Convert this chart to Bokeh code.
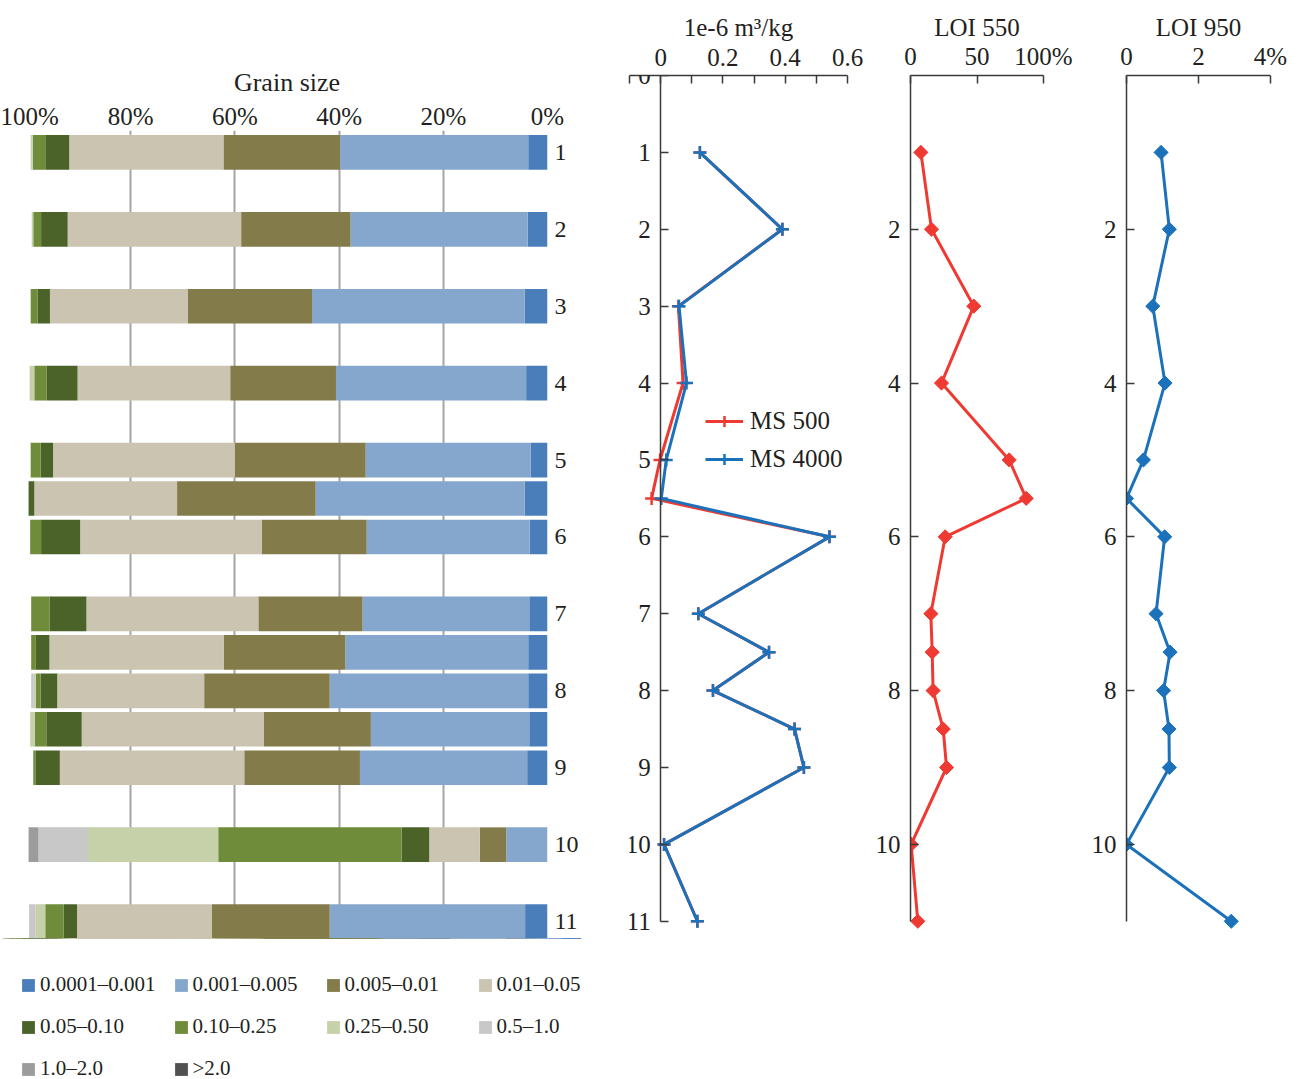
from bokeh.plotting import figure
from bokeh.models import (Range1d, FixedTicker, Legend, LegendItem,
                          PrintfTickFormatter, ColumnDataSource)
from bokeh.layouts import row, column
from bokeh.embed import file_html
from bokeh.resources import INLINE

FONT = "Liberation Serif"
INK = "#231F20"
AXIS = "#3A3A3A"
RED = "#EE3A33"
BLUE = "#1B72BA"

# ---------------- data ----------------
depth = [1, 2, 3, 4, 5, 5.5, 6, 7, 7.5, 8, 8.5, 9, 10, 11]
depth_ticks = [0, 1, 2, 3, 4, 5, 6, 7, 8, 9, 10, 11]
loi_depth_ticks = [2, 4, 6, 8, 10]

size_classes = ["0.0001\u20130.001", "0.001\u20130.005", "0.005\u20130.01", "0.01\u20130.05",
                "0.05\u20130.10", "0.10\u20130.25", "0.25\u20130.50", "0.5\u20131.0",
                "1.0\u20132.0", ">2.0"]
class_colors = ["#4A7EBB", "#86A7CD", "#847B4B", "#CAC4B0", "#4B6329",
                "#6E8C3A", "#C6D1AA", "#C8C8C8", "#9C9C9C", "#505050"]

# percentages of each grain-size class per sample
c_00001_0001 = [3.7, 3.8, 4.4, 4.1, 3.2, 4.4, 3.4, 3.5, 3.7, 3.7, 3.5, 3.9, 0.0, 4.3]
c_0001_0005 = [36.1, 34.0, 40.8, 36.5, 31.7, 40.1, 31.3, 32.0, 35.1, 38.1, 30.4, 32.1, 7.9, 37.5]
c_0005_001 = [22.4, 21.0, 23.8, 20.3, 25.1, 26.6, 20.1, 20.0, 23.3, 24.1, 20.6, 22.2, 5.1, 22.6]
c_001_005 = [29.6, 33.3, 26.5, 29.3, 34.9, 27.4, 34.9, 33.0, 33.5, 28.2, 34.9, 35.4, 9.7, 25.9]
c_005_010 = [4.6, 5.1, 2.4, 5.9, 2.4, 1.1, 7.5, 7.1, 2.6, 3.2, 6.8, 4.6, 5.3, 2.6]
c_010_025 = [2.4, 1.5, 1.3, 2.4, 1.9, 0.0, 2.1, 3.5, 0.9, 0.9, 2.2, 0.5, 35.2, 3.5]
c_025_050 = [0.4, 0.3, 0.0, 0.9, 0.0, 0.0, 0.0, 0.0, 0.0, 0.4, 0.9, 0.0, 25.0, 1.9]
c_05_10 = [0.0, 0.0, 0.0, 0.0, 0.0, 0.0, 0.0, 0.0, 0.0, 0.5, 0.0, 0.0, 9.5, 1.2]
c_10_20 = [0.0, 0.0, 0.0, 0.0, 0.0, 0.0, 0.0, 0.0, 0.0, 0.0, 0.0, 0.0, 1.9, 0.0]
c_gt20 = [0.0, 0.0, 0.0, 0.0, 0.0, 0.0, 0.0, 0.0, 0.0, 0.0, 0.0, 0.0, 0.0, 0.0]

ms500 = [0.126, 0.391, 0.057, 0.072, -0.002, -0.029, 0.542, 0.121, 0.348, 0.168, 0.430, 0.460, 0.011, 0.118]
ms4000 = [0.126, 0.391, 0.059, 0.083, 0.018, 0.002, 0.542, 0.121, 0.348, 0.168, 0.430, 0.460, 0.011, 0.118]
loi550 = [7.8, 15.8, 47.6, 23.3, 74.2, 87.0, 26.1, 15.3, 16.3, 17.0, 24.6, 27.1, 0.5, 5.5]
loi950 = [0.96, 1.19, 0.73, 1.07, 0.47, 0.0, 1.06, 0.82, 1.21, 1.03, 1.18, 1.19, 0.0, 2.91]

grain_ticks = [0, 20, 40, 60, 80, 100]
ms_ticks = [0, 0.2, 0.4, 0.6]
ms_minor = [-0.1, 0.1, 0.3, 0.5]
loi550_ticks = [0, 50, 100]
loi950_ticks = [0, 2, 4]


# ---------------- helpers ----------------
def style_axis(ax, size="25px"):
    ax.major_label_text_font = FONT
    ax.major_label_text_font_size = size
    ax.major_label_text_color = INK
    ax.axis_label_text_font = FONT
    ax.axis_label_text_font_size = "25px"
    ax.axis_label_text_font_style = "normal"
    ax.axis_label_text_color = INK
    ax.axis_line_color = AXIS
    ax.axis_line_width = 1.5
    ax.major_tick_line_color = AXIS
    ax.major_tick_line_width = 1.5
    ax.minor_tick_line_color = AXIS
    ax.minor_tick_line_width = 1.5
    ax.major_tick_in = 8
    ax.major_tick_out = 0
    ax.minor_tick_in = 8
    ax.minor_tick_out = 0


# ---------------- grain size panel ----------------
cols = ["c%d" % i for i in range(10)]
series = [c_00001_0001, c_0001_0005, c_0005_001, c_001_005, c_005_010,
          c_010_025, c_025_050, c_05_10, c_10_20, c_gt20]
data = dict(depth=depth)
for c, s in zip(cols, series):
    data[c] = s
src = ColumnDataSource(data)

pa = figure(frame_width=521, frame_height=808,
            x_range=Range1d(100, 0), y_range=Range1d(11.22, 0.715),
            x_axis_location="above", y_axis_location="right",
            toolbar_location=None, output_backend="svg", frame_align=False,
            min_border_left=26, min_border_right=34,
            min_border_top=130, min_border_bottom=0)
pa.outline_line_color = None
rs = pa.hbar_stack(cols, y="depth", height=0.45, fill_color=class_colors,
                   line_color=None, source=src)

gt = FixedTicker(ticks=grain_ticks)
pa.xaxis.ticker = gt
pa.xaxis.formatter = PrintfTickFormatter(format="%d%%")
style_axis(pa.xaxis[0])
pa.xaxis.axis_line_color = None
pa.xaxis.major_tick_line_color = None
pa.xaxis.minor_tick_line_color = None
pa.xaxis.major_label_standoff = 1
pa.xaxis.axis_label = "Grain size"
pa.xaxis.axis_label_standoff = 3
pa.xaxis.axis_label_text_font_size = "26px"

pa.yaxis.ticker = FixedTicker(ticks=list(range(1, 12)))
style_axis(pa.yaxis[0], "24px")
pa.yaxis.axis_line_color = None
pa.yaxis.major_tick_line_color = None
pa.yaxis.minor_tick_line_color = None
pa.yaxis.major_label_standoff = 7

pa.xgrid.ticker = gt
pa.xgrid.grid_line_color = "#A5A5A5"
pa.xgrid.grid_line_width = 2
pa.ygrid.visible = False

# ---------------- grain size legend (small plot under the bars) ----------------
# the same stacked series feed the legend glyphs; the plot's y window lies far
# outside the data, so only the legend is seen
pleg = figure(width=581, height=141, x_range=Range1d(100, 0), y_range=Range1d(-20, -19),
              x_axis_location=None, y_axis_location=None, toolbar_location=None,
              output_backend="svg", frame_align=False,
              min_border=0, min_border_left=0, min_border_right=0,
              min_border_top=0, min_border_bottom=0)
pleg.outline_line_color = None
pleg.grid.visible = False
proxies = pleg.hbar_stack(cols, y="depth", height=0.45, fill_color=class_colors,
                          line_color=None, source=src)
leg = Legend(items=[LegendItem(label=n, renderers=[r]) for n, r in zip(size_classes, proxies)],
             ncols=4, orientation="horizontal", location=(20, -2),
             glyph_width=16, glyph_height=16, label_standoff=4,
             label_width=115, spacing=17, padding=0, margin=0,
             border_line_color=None, background_fill_alpha=0,
             label_text_font=FONT, label_text_font_size="21px", label_text_color=INK)
pleg.add_layout(leg)

# ---------------- magnetic susceptibility panel ----------------
pb = figure(frame_width=218, frame_height=865,
            x_range=Range1d(-0.1, 0.6), y_range=Range1d(11.25, 0),
            x_axis_location="above", toolbar_location=None, output_backend="svg",
            frame_align=False,
            min_border_left=48, min_border_right=20, min_border_top=75, min_border_bottom=15)
pb.outline_line_color = None
pb.grid.visible = False
pb.xaxis.ticker = FixedTicker(ticks=ms_ticks, minor_ticks=ms_minor)
style_axis(pb.xaxis[0])
pb.xaxis.major_label_standoff = 10
pb.xaxis.axis_label = "1e-6 m\u00b3/kg"
pb.xaxis.axis_label_standoff = 5
pb.yaxis.ticker = FixedTicker(ticks=depth_ticks)
style_axis(pb.yaxis[0])
pb.yaxis.fixed_location = 0
pb.yaxis.bounds = (0, 11)
pb.yaxis.major_label_standoff = 10

l500 = pb.line(ms500, depth, line_color=RED, line_width=3)
m500 = pb.scatter(ms500, depth, marker="cross", size=13, line_color=RED, line_width=2.5)
l4000 = pb.line(ms4000, depth, line_color=BLUE, line_width=3)
m4000 = pb.scatter(ms4000, depth, marker="cross", size=13, line_color=BLUE, line_width=2.5)

leg_ms = Legend(items=[LegendItem(label="MS 500", renderers=[l500, m500]),
                       LegendItem(label="MS 4000", renderers=[l4000, m4000])],
                location=(76, 467), glyph_width=38, glyph_height=28, label_standoff=7,
                spacing=10, padding=0, margin=0, border_line_color=None,
                background_fill_alpha=0, label_text_font=FONT,
                label_text_font_size="25px", label_text_color=INK)
pb.add_layout(leg_ms)

# ---------------- LOI 550 panel ----------------
pc = figure(frame_width=133, frame_height=865,
            x_range=Range1d(0, 100), y_range=Range1d(11.25, 0),
            x_axis_location="above", toolbar_location=None, output_backend="svg",
            frame_align=False,
            min_border_left=43, min_border_right=40, min_border_top=75, min_border_bottom=15)
pc.outline_line_color = None
pc.grid.visible = False
pc.xaxis.ticker = FixedTicker(ticks=loi550_ticks)
pc.xaxis.major_label_overrides = {100: "100%"}
style_axis(pc.xaxis[0])
pc.xaxis.major_label_standoff = 6
pc.xaxis.axis_label = "LOI 550"
pc.xaxis.axis_label_standoff = -1
pc.yaxis.ticker = FixedTicker(ticks=loi_depth_ticks)
style_axis(pc.yaxis[0])
pc.yaxis.bounds = (0, 11)
pc.yaxis.major_label_standoff = 10
pc.line(loi550, depth, line_color=RED, line_width=3)
pc.scatter(loi550, depth, marker="square", angle=0.785398, size=10,
           fill_color=RED, line_color=RED, line_width=1)

# ---------------- LOI 950 panel ----------------
pd_ = figure(frame_width=144, frame_height=865,
             x_range=Range1d(0, 4), y_range=Range1d(11.25, 0),
             x_axis_location="above", toolbar_location=None, output_backend="svg",
             frame_align=False,
             min_border_left=43, min_border_right=24, min_border_top=75, min_border_bottom=15)
pd_.outline_line_color = None
pd_.grid.visible = False
pd_.xaxis.ticker = FixedTicker(ticks=loi950_ticks)
pd_.xaxis.major_label_overrides = {4: "4%"}
style_axis(pd_.xaxis[0])
pd_.xaxis.major_label_standoff = 6
pd_.xaxis.axis_label = "LOI 950"
pd_.xaxis.axis_label_standoff = -1
pd_.yaxis.ticker = FixedTicker(ticks=loi_depth_ticks)
style_axis(pd_.yaxis[0])
pd_.yaxis.bounds = (0, 11)
pd_.yaxis.major_label_standoff = 10
pd_.line(loi950, depth, line_color=BLUE, line_width=3)
pd_.scatter(loi950, depth, marker="square", angle=0.785398, size=10,
            fill_color=BLUE, line_color=BLUE, line_width=1)

layout = row(column(pa, pleg), pb, pc, pd_)
open("out.html", "w").write(file_html(layout, INLINE))
